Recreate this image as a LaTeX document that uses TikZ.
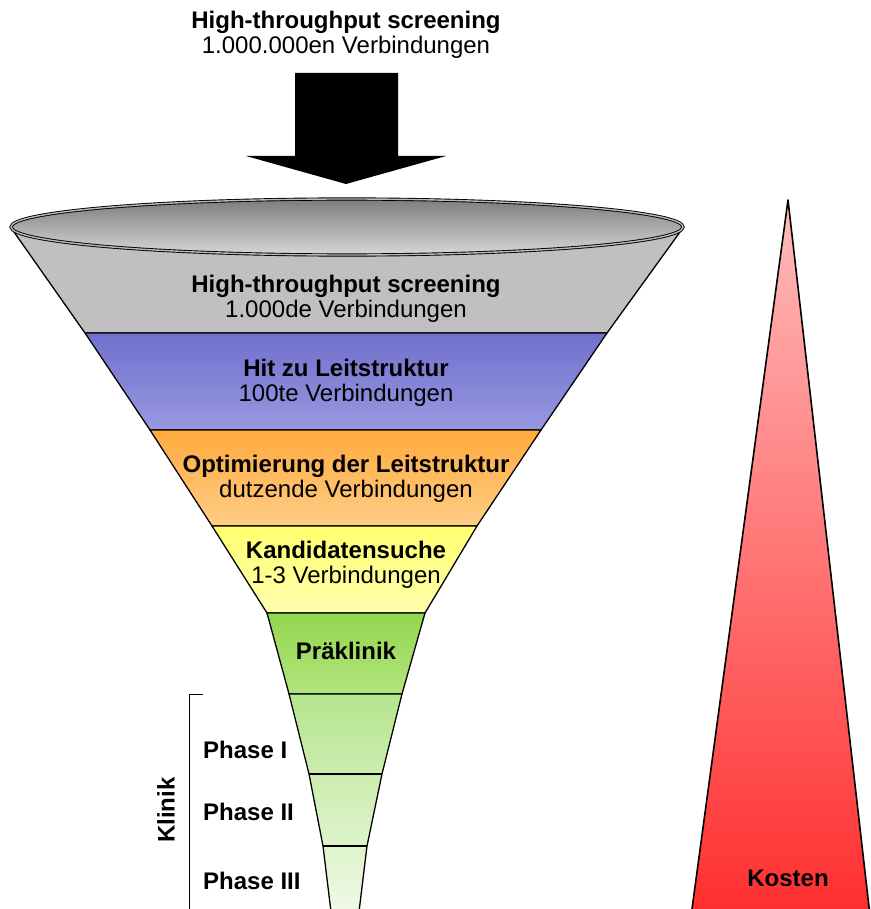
\documentclass[tikz,border=0pt]{standalone}
\usepackage{fontspec}
\setmainfont{Liberation Sans}
\definecolor{grayband}{RGB}{192,192,192}
\definecolor{rimtop}{RGB}{125,125,125}
\definecolor{rimbot}{RGB}{215,215,215}
\definecolor{bluetop}{RGB}{112,112,205}
\definecolor{bluebot}{RGB}{152,152,225}
\definecolor{orangetop}{RGB}{255,170,60}
\definecolor{orangebot}{RGB}{255,205,135}
\definecolor{yellowtop}{RGB}{255,255,110}
\definecolor{yellowbot}{RGB}{255,255,175}
\definecolor{greentop}{RGB}{148,214,78}
\definecolor{greenbot}{RGB}{178,228,125}
\definecolor{phasetop}{RGB}{182,229,142}
\definecolor{phasebot}{RGB}{242,250,234}
\definecolor{costtop}{RGB}{255,188,188}
\definecolor{costbot}{RGB}{255,45,45}
\begin{document}
\begin{tikzpicture}[x=1pt,y=-1pt,
  lab/.style={font=\fontsize{24}{25}\selectfont, align=center, inner sep=0pt},
  blab/.style={font=\fontsize{24}{25}\selectfont\bfseries, inner sep=0pt},
  seg/.style={draw=black, line width=1.3pt, line join=round}]
\useasboundingbox (0,0) rectangle (870,909);

% top text and arrow
\node[lab] (title) at (346,34.5) {{\bfseries High-throughput screening}\\1.000.000en Verbindungen};
\fill[black] (295,73) -- (398,73) -- (398,156) -- (446,156) -- (346,184) -- (246,156) -- (295,156) -- cycle;

% funnel sections
\shade[seg, top color=grayband, bottom color=grayband] (14,232) -- (680,232) -- (607,333) -- (85,333) -- cycle;
\shade[seg, top color=bluetop, bottom color=bluebot] (85,333) -- (607,333) -- (541,430) -- (150,430) -- cycle;
\shade[seg, top color=orangetop, bottom color=orangebot] (150,430) -- (541,430) -- (477,526) -- (212,526) -- cycle;
\shade[seg, top color=yellowtop, bottom color=yellowbot] (212,526) -- (477,526) -- (425,613) -- (267,613) -- cycle;
\shade[seg, top color=greentop, bottom color=greenbot] (267,613) -- (425,613) -- (402,694) -- (289,694) -- cycle;
\shade[seg, top color=phasetop, bottom color=phasebot] (289,694) -- (402,694) -- (382,774) -- (367,846) -- (358,920) -- (332,920) -- (323,846) -- (309,774) -- cycle;
\draw[seg] (309,774) -- (382,774);
\draw[seg] (323,846) -- (367,846);

% rim
\shade[top color=rimtop, bottom color=rimbot, draw=black, line width=0.9pt, double=gray!55, double distance=1.4pt]
  (347,227) ellipse [x radius=336, y radius=28];

% funnel labels
\node[lab] (hts) at (346,298.5) {{\bfseries High-throughput screening}\\1.000de Verbindungen};
\node[lab] (hit) at (346,382.5) {{\bfseries Hit zu Leitstruktur}\\100te Verbindungen};
\node[lab] (opt) at (346,478.5) {{\bfseries Optimierung der Leitstruktur}\\dutzende Verbindungen};
\node[lab] (kand) at (346,565) {{\bfseries Kandidatensuche}\\1-3 Verbindungen};
\node[blab] (prae) at (346,651) {Präklinik};

% clinic bracket
\draw[line width=1pt] (203,694) -- (189.5,694) -- (189.5,920);
\node[blab, anchor=west] (p1) at (203,750) {Phase I};
\node[blab, anchor=west] (p2) at (203,812) {Phase II};
\node[blab, anchor=west] (p3) at (203,881) {Phase III};
\node[blab, rotate=90] (klinik) at (166,810) {Klinik};

% cost triangle
\shade[top color=costtop, bottom color=costbot, draw=black, line width=1.6pt, line join=round]
  (788,200) -- (870.5,920) -- (690.5,920) -- cycle;
\node[blab] (kosten) at (788,878) {Kosten};
\end{tikzpicture}
\end{document}
